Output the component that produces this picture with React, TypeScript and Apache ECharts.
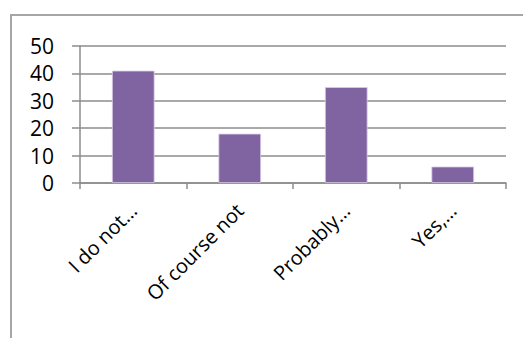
import React, { useEffect, useRef } from "react";
import * as echarts from "echarts";

const categories = ["I do not…", "Of course not", "Probably…", "Yes,…"];
const responses = [41, 18, 35, 6];
const yTicks = { min: 0, max: 50, interval: 10 };

const FONT = "'Open Sans', 'Noto Sans', sans-serif";
const GRID_GREY = "#8c8c8c";

export default function App() {
  const ref = useRef<HTMLDivElement>(null);

  useEffect(() => {
    if (!ref.current) return;
    const chart = echarts.init(ref.current, undefined, { renderer: "svg" });
    chart.setOption({
      animation: false,
      backgroundColor: "#ffffff",
      textStyle: { fontFamily: FONT },
      graphic: [
        {
          type: "rect",
          shape: { x: 11, y: 15, width: 530, height: 340 },
          style: { fill: "none", stroke: "#a6a6a6", lineWidth: 2 },
          silent: true,
          z: -1,
        },
      ],
      grid: { left: 80, right: 17, top: 46, bottom: 155, containLabel: false },
      xAxis: {
        type: "category",
        data: categories,
        axisLine: { show: true, lineStyle: { color: GRID_GREY, width: 1.5 } },
        axisTick: { show: true, alignWithLabel: false, length: 6, lineStyle: { color: GRID_GREY, width: 1.5 } },
        axisLabel: {
          rotate: 45,
          interval: 0,
          margin: 24,
          color: "#000000",
          fontFamily: FONT,
          fontSize: 20,
        },
        splitLine: { show: false },
      },
      yAxis: {
        type: "value",
        min: yTicks.min,
        max: yTicks.max,
        interval: yTicks.interval,
        axisLine: { show: true, lineStyle: { color: GRID_GREY, width: 1.5 } },
        axisTick: { show: true, length: 8, inside: false, lineStyle: { color: GRID_GREY, width: 1.5 } },
        axisLabel: {
          margin: 26,
          color: "#000000",
          fontFamily: FONT,
          fontSize: 21,
        },
        splitLine: { show: true, lineStyle: { color: GRID_GREY, width: 1.5 } },
      },
      series: [
        {
          type: "bar",
          data: responses,
          barWidth: "40%",
          itemStyle: { color: "#8064a2", borderColor: "#d8cce6", borderWidth: 0.8 },
        },
      ],
    });
    return () => chart.dispose();
  }, []);

  return (
    <div
      ref={ref}
      style={{ position: "fixed", left: 0, top: 0, width: 523, height: 338 }}
    />
  );
}
